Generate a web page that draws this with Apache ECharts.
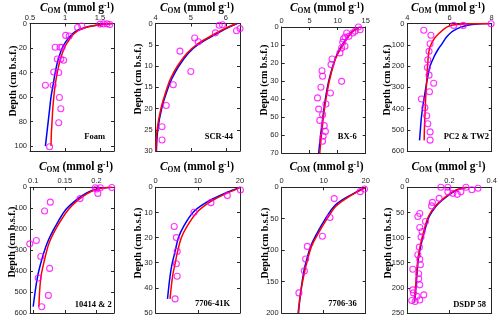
<!DOCTYPE html>
<html><head><meta charset="utf-8">
<script src="https://cdn.jsdelivr.net/npm/echarts@6/dist/echarts.min.js"></script>
<style>html,body{margin:0;padding:0;background:#fff}#c{width:500px;height:320px}</style>
</head><body><div id="c"></div>
<script>
// ---------- data: [C_OM, depth] ----------
const panelNames = ['Foam', 'SCR-44', 'BX-6', 'PC2 & TW2', '10414 & 2', '7706-41K', '7706-36', 'DSDP 58'];

const foamObs = [[1.18,3.3],[1.24,2],[1.5,0.5],[1.55,0.3],[1.6,0.3],[1.64,0.8],[1.01,9.7],[1.06,10.2],[0.86,19.4],[0.93,19.4],[0.96,19.4],[0.89,29],[0.94,29],[0.98,30],[0.84,39.6],[0.91,40],[0.72,50.4],[0.83,50.4],[0.92,60.4],[0.94,69.5],[0.91,81],[0.78,100.5]];
const foamBlue = [[1.68,0],[1.58,0.5],[1.5,1],[1.38,2],[1.3,3],[1.22,4.5],[1.15,6.5],[1.08,10],[1.01,15],[0.96,20],[0.9,30],[0.86,40],[0.83,50],[0.8,60],[0.78,70],[0.76,80],[0.74,90],[0.72,100]];
const foamRed = [[1.68,0],[1.57,0.5],[1.49,1],[1.39,2],[1.31,3],[1.24,4.5],[1.17,6.5],[1.1,10],[1.04,15],[0.99,20],[0.93,30],[0.89,40],[0.86,50],[0.84,60],[0.825,70],[0.815,80],[0.805,90],[0.8,100]];
const foamXTicks = [0.5, 1, 1.5];
const foamYTicks = [0, 20, 40, 60, 80, 100];

const scrObs = [[4.18,24.3],[4.18,27.4],[4.3,19.3],[4.5,14.4],[4.69,6.5],[5.0,11.3],[5.11,3.4],[5.21,4.3],[5.7,2.2],[5.81,0.4],[5.9,0.3],[6.3,1.7],[6.4,1.2]];
const scrBlue = [[6.32,0],[6.05,1],[5.82,2],[5.6,3],[5.2,5],[4.93,7],[4.66,10],[4.46,13],[4.36,15],[4.17,20],[4.06,25],[4.02,30]];
const scrRed = [[6.3,0],[6.02,1],[5.78,2],[5.56,3],[5.16,5],[4.89,7],[4.62,10],[4.42,13],[4.33,15],[4.15,20],[4.04,25],[4.005,30]];
const scrXTicks = [4, 5, 6];
const scrYTicks = [0, 5, 10, 15, 20, 25, 30];

const bx6Obs = [[13.7,0],[14.0,1.5],[13.1,2.4],[12.7,3.3],[11.6,3.3],[12.0,5.2],[11.3,5.6],[11.0,6.7],[10.9,8.5],[11.3,10.7],[10.7,11.7],[10.4,14.4],[9.0,17.8],[8.8,20.9],[7.2,24.3],[7.3,27.4],[10.7,30.2],[7.0,33.5],[8.7,36.7],[6.4,39.4],[7.9,42.8],[6.6,45.6],[7.3,48.7],[6.8,51.9],[7.6,54.8],[7.8,58],[7.4,60.7],[7.3,63.5]];
const bx6Blue = [[13.7,1],[12.8,2],[11.9,5],[10.8,10],[9.9,15],[9.3,20],[8.4,30],[7.8,40],[7.35,50],[6.95,60],[6.6,70]];
const bx6Red = [[13.8,1],[12.9,2],[12.0,5],[10.9,10],[10.0,15],[9.35,20],[8.5,30],[7.9,40],[7.45,50],[7.1,60],[6.8,70]];
const bx6XTicks = [0, 5, 10, 15];
const bx6YTicks = [0, 10, 20, 30, 40, 50, 60, 70];

const pcObs = [[7.97,1],[6.2,9],[6.65,9],[4.78,32],[5.12,55],[5.08,95],[5.03,131],[4.97,171],[4.95,207],[5.03,243],[5.25,281],[5.05,321],[4.67,355],[4.83,396],[4.92,434],[4.97,472],[5.08,510],[5.08,549]];
const pcBlue = [[7.95,0],[7.5,1],[7.2,3],[6.85,8],[6.55,17],[6.3,28],[6.1,40],[5.85,65],[5.65,95],[5.47,120],[5.3,150],[5.08,200],[4.97,250],[4.88,300],[4.8,350],[4.72,400],[4.66,450],[4.62,500],[4.58,550]];
const pcRed = [[7.9,0],[7.0,1],[6.5,3],[6.1,8],[5.85,18],[5.6,38],[5.3,68],[5.12,100],[5.05,120],[5.0,150],[4.96,200],[4.93,250],[4.9,300],[4.87,350],[4.85,400],[4.83,450],[4.81,500],[4.8,550]];
const pcXTicks = [4, 6, 8];
const pcYTicks = [0, 100, 200, 300, 400, 500, 600];

const r10414Obs = [[0.0946,270],[0.105,254],[0.112,330],[0.108,433],[0.126,387],[0.127,71],[0.118,113],[0.124,516],[0.1135,570],[0.174,54],[0.198,2],[0.206,2],[0.2,8],[0.202,29],[0.224,1]];
const r10414Blue = [[0.224,0],[0.213,2],[0.204,6],[0.195,13],[0.183,29],[0.168,60],[0.151,108],[0.135,187],[0.122,267],[0.1135,346],[0.1065,433],[0.1,570]];
const r10414Red = [[0.225,0],[0.214,2],[0.206,6],[0.197,13],[0.186,29],[0.171,60],[0.155,108],[0.138,187],[0.125,267],[0.118,346],[0.112,433],[0.109,570]];
const r10414XTicks = [0.1, 0.15, 0.2];
const r10414YTicks = [0, 100, 200, 300, 400, 500, 600];

const k41Obs = [[20.1,1.1],[17.0,3.3],[13.1,6.1],[9.1,9.9],[4.4,15.6],[4.9,20],[5.1,25.5],[4.9,30.4],[5.1,35.4],[4.6,44.4]];
const k41Blue = [[20,0],[18.5,1],[16.2,2.5],[13.9,4.3],[11.9,6.1],[8.9,9.9],[6.6,15.6],[5.4,20],[4.6,25.5],[3.9,30.4],[3.4,35.4],[2.8,44.4]];
const k41Red = [[20,0],[18.8,1],[16.7,2.5],[14.5,4.3],[12.6,6.1],[9.8,9.9],[7.4,15.6],[6.1,20],[5.2,25.5],[4.6,30.4],[4.0,35.4],[3.4,44.4]];
const k41XTicks = [0, 10, 20];
const k41YTicks = [0, 10, 20, 30, 40, 50];

const s36Obs = [[19.7,2.6],[18.7,6.9],[12.5,18],[11.5,48],[9.7,78],[6.1,94],[5.7,114],[5.4,133],[4.1,168]];
const s36Blue = [[20,0],[17.9,7],[14.9,18],[12.5,30],[10.6,48],[8.0,78],[6.9,94],[6.0,114],[5.3,133],[4.5,168],[4.0,200]];
const s36Red = [[20,0],[18.1,7],[15.3,18],[12.9,30],[11.0,48],[8.3,78],[7.1,94],[6.2,114],[5.5,133],[4.5,168],[3.9,200]];
const s36XTicks = [0, 10, 20];
const s36YTicks = [0, 50, 100, 150, 200];

const d58Obs = [[0.159,0],[0.192,0],[0.278,0],[0.306,5],[0.335,2],[0.254,9],[0.237,14],[0.216,12],[0.192,9],[0.151,22],[0.119,30],[0.115,37],[0.059,52],[0.05,58],[0.086,68],[0.059,80],[0.07,88],[0.065,99],[0.057,119],[0.05,134],[0.059,143],[0.062,154],[0.026,163],[0.054,172],[0.054,182],[0.059,194],[0.026,204],[0.029,210],[0.046,217],[0.078,214],[0.059,224],[0.021,225],[0.037,227]];
const d58Blue = [[0.282,0],[0.237,5],[0.208,12],[0.167,25],[0.135,38],[0.104,58],[0.088,78],[0.067,111],[0.052,144],[0.042,194],[0.034,229]];
const d58Red = [[0.28,0],[0.234,5],[0.204,12],[0.163,25],[0.131,38],[0.1,58],[0.084,78],[0.064,111],[0.05,144],[0.04,194],[0.033,229]];
const d58XTicks = [0, 0.2, 0.4];
const d58YTicks = [0, 50, 100, 150, 200, 250];

// ---------- layout ----------
const panels = [
  {obs: foamObs, blue: foamBlue, red: foamRed, xr: [0.5, 1.7], yr: [0, 104], xt: foamXTicks, yt: foamYTicks,
   g: [30, 23.5, 84, 127.5], lab: [105, 137], tit: [77, 8], yn: [13, 81]},
  {obs: scrObs, blue: scrBlue, red: scrRed, xr: [4, 6.4], yr: [0, 30], xt: scrXTicks, yt: scrYTicks,
   g: [155.7, 23.5, 84.3, 127.5], lab: [233, 137], tit: [197, 8], yn: [138, 79]},
  {obs: bx6Obs, blue: bx6Blue, red: bx6Red, xr: [0, 15], yr: [0, 70], xt: bx6XTicks, yt: bx6YTicks,
   g: [281.7, 27, 84, 126], lab: [356.7, 137], tit: [327, 8], yn: [264, 80]},
  {obs: pcObs, blue: pcBlue, red: pcRed, xr: [4, 8], yr: [0, 600], xt: pcXTicks, yt: pcYTicks,
   g: [407.3, 23.5, 84.4, 127.5], lab: [489, 137], tit: [448, 8], yn: [387, 80]},
  {obs: r10414Obs, blue: r10414Blue, red: r10414Red, xr: [0.095, 0.2275], yr: [0, 600], xt: r10414XTicks, yt: r10414YTicks,
   g: [30, 187.3, 84, 125.7], lab: [111.7, 305], tit: [76, 167.5], yn: [12.7, 242]},
  {obs: k41Obs, blue: k41Blue, red: k41Red, xr: [0, 20], yr: [0, 50], xt: k41XTicks, yt: k41YTicks,
   g: [155.7, 187.3, 84.3, 125.7], lab: [230, 304], tit: [197, 167.5], yn: [138.3, 243]},
  {obs: s36Obs, blue: s36Blue, red: s36Red, xr: [0, 20], yr: [0, 200], xt: s36XTicks, yt: s36YTicks,
   g: [281.7, 187.3, 84, 125.7], lab: [356.7, 304], tit: [326.5, 167.5], yn: [265, 243]},
  {obs: d58Obs, blue: d58Blue, red: d58Red, xr: [0, 0.4], yr: [0, 250], xt: d58XTicks, yt: d58YTicks,
   g: [407.3, 187.3, 84.4, 125.7], lab: [486, 305], tit: [448.5, 167.5], yn: [388.3, 243]}
];

const AX = '#262626';
const SERIF = 'Liberation Serif';
const SANS = 'Liberation Sans';
const lineStyle = {color: AX, width: 1};

const grid = [], xAxis = [], yAxis = [], series = [], graphic = [];
panels.forEach((p, i) => {
  grid.push({left: p.g[0], top: p.g[1], width: p.g[2], height: p.g[3], containLabel: false, outerBoundsMode: 'none'});
  const tick = vals => ({show: true, inside: true, length: 3, lineStyle: lineStyle, customValues: vals});
  xAxis.push({gridIndex: i, type: 'value', position: 'top', min: p.xr[0], max: p.xr[1],
    axisLine: {show: true, onZero: false, lineStyle}, axisTick: tick(p.xt), splitLine: {show: false},
    axisLabel: {customValues: p.xt, fontSize: 7.5, fontFamily: SANS, color: AX, margin: 2}});
  xAxis.push({gridIndex: i, type: 'value', position: 'bottom', min: p.xr[0], max: p.xr[1],
    axisLine: {show: true, onZero: false, lineStyle}, axisTick: tick(p.xt), splitLine: {show: false},
    axisLabel: {show: false}});
  yAxis.push({gridIndex: i, type: 'value', position: 'left', inverse: true, min: p.yr[0], max: p.yr[1],
    axisLine: {show: true, onZero: false, lineStyle}, axisTick: tick(p.yt), splitLine: {show: false},
    axisLabel: {customValues: p.yt, fontSize: 7.5, fontFamily: SANS, color: AX, margin: 3}});
  yAxis.push({gridIndex: i, type: 'value', position: 'right', inverse: true, min: p.yr[0], max: p.yr[1],
    axisLine: {show: true, onZero: false, lineStyle}, axisTick: tick(p.yt), splitLine: {show: false},
    axisLabel: {show: false}});
  const common = {xAxisIndex: 2 * i, yAxisIndex: 2 * i};
  series.push(Object.assign({type: 'line', data: p.blue, showSymbol: false, smooth: 0.35,
    lineStyle: {color: '#0000ff', width: 1.5}, z: 3}, common));
  series.push(Object.assign({type: 'line', data: p.red, showSymbol: false, smooth: 0.35,
    lineStyle: {color: '#ff0000', width: 1.5}, z: 4}, common));
  series.push(Object.assign({type: 'scatter', data: p.obs, symbol: 'circle', symbolSize: 6, clip: false,
    itemStyle: {color: 'rgba(0,0,0,0)', borderColor: '#ff00ff', borderWidth: 1.1}, z: 5}, common));

  graphic.push({type: 'text', x: p.lab[0], y: p.lab[1], z: 10,
    style: {text: panelNames[i], font: 'bold 8.5px "' + SERIF + '"', fill: '#000',
      align: 'right', textAlign: 'right', verticalAlign: 'middle', textVerticalAlign: 'middle'}});
  graphic.push({type: 'text', x: p.yn[0], y: p.yn[1], rotation: Math.PI / 2, z: 10,
    style: {text: 'Depth (cm b.s.f.)', font: 'bold 10px "' + SERIF + '"', fill: '#000',
      align: 'center', textAlign: 'center', verticalAlign: 'middle', textVerticalAlign: 'middle'}});
  graphic.push({type: 'text', x: p.tit[0], y: p.tit[1], z: 10,
    style: {text: '{c|C}{s|OM}{n| (mmol g}{p|-1}{n|)}', fill: '#000',
      align: 'center', textAlign: 'center', verticalAlign: 'middle', textVerticalAlign: 'middle',
      rich: {
        c: {fontFamily: SERIF, fontWeight: 'bold', fontStyle: 'italic', fontSize: 11.5, lineHeight: 12, verticalAlign: 'top', fill: '#000', color: '#000'},
        n: {fontFamily: SERIF, fontWeight: 'bold', fontSize: 11.5, lineHeight: 12, verticalAlign: 'top', fill: '#000', color: '#000'},
        s: {fontFamily: SERIF, fontWeight: 'bold', fontSize: 7.5, lineHeight: 8, padding: [6, 0, 0, 0], fill: '#000', color: '#000'},
        p: {fontFamily: SERIF, fontWeight: 'bold', fontSize: 7.5, lineHeight: 8, verticalAlign: 'top', fill: '#000', color: '#000'}
      }}});
});

const chart = echarts.init(document.getElementById('c'), null, {renderer: 'canvas'});
chart.setOption({animation: false, backgroundColor: '#fff', grid, xAxis, yAxis, series, graphic});
</script></body></html>
